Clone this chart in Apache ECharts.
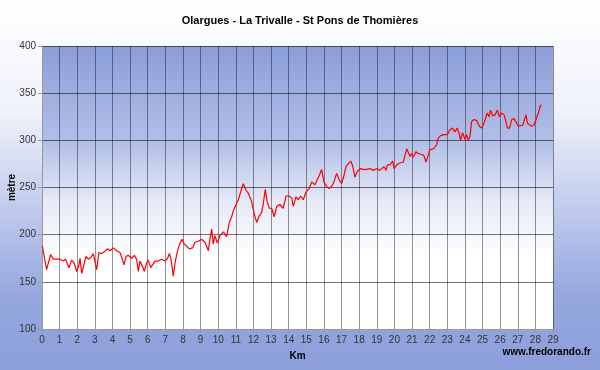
<!DOCTYPE html>
<html><head><meta charset="utf-8">
<script src="https://cdn.jsdelivr.net/npm/echarts@6/dist/echarts.min.js"></script>
<style>html,body{margin:0;padding:0;}#c{width:600px;height:370px;}</style>
</head><body><div id="c"></div>
<script>
const chartTitle = 'Olargues - La Trivalle - St Pons de Thomières';
const xAxisName = 'Km';
const yAxisName = 'mètre';
const watermark = 'www.fredorando.fr';
const distanceKm = [
 0.02,0.26,0.49,0.64,1.02,1.21,1.34,1.53,1.68,1.82,1.97,2.10,2.16,2.25,2.35,2.50,2.63,2.78,2.91,3.01,
 3.10,3.23,3.39,3.54,3.71,3.86,4.05,4.24,4.43,4.56,4.65,4.77,4.90,5.09,5.24,5.37,5.47,5.56,5.71,5.81,
 5.94,6.03,6.17,6.28,6.41,6.60,6.79,6.98,7.13,7.23,7.32,7.45,7.55,7.68,7.83,7.95,8.08,8.20,8.36,8.55,
 8.68,8.87,9.06,9.25,9.44,9.53,9.63,9.72,9.82,9.95,10.10,10.29,10.48,10.63,10.76,10.89,11.00,11.14,11.27,11.42,
 11.58,11.71,11.90,12.03,12.18,12.33,12.46,12.56,12.67,12.78,12.90,13.03,13.18,13.32,13.50,13.69,13.85,14.03,14.17,14.26,
 14.41,14.55,14.68,14.83,14.98,15.17,15.30,15.49,15.59,15.74,15.87,16.00,16.15,16.30,16.44,16.57,16.72,16.87,17.00,17.14,
 17.25,17.38,17.52,17.63,17.76,17.89,18.05,18.33,18.62,18.80,19.00,19.15,19.28,19.41,19.53,19.60,19.75,19.90,19.98,20.13,
 20.32,20.51,20.60,20.70,20.79,20.88,20.98,21.07,21.22,21.35,21.54,21.67,21.79,21.92,22.01,22.20,22.39,22.48,22.62,22.81,
 23.00,23.15,23.30,23.43,23.56,23.68,23.75,23.87,24.00,24.10,24.19,24.29,24.38,24.51,24.67,24.82,24.95,25.08,25.20,25.27,
 25.37,25.46,25.58,25.71,25.84,25.96,26.09,26.22,26.33,26.41,26.53,26.66,26.79,26.90,27.04,27.13,27.28,27.38,27.47,27.55,
 27.66,27.79,27.92,28.02,28.08,28.17,28.27,28.34
];
const altitudeM = [
 188,163,179,174,174,172,174,165,173,170,161,168,175,159,166,177,174,176,180,178,
 163,181,180,182,185,183,186,183,181,174,168,177,178,175,178,174,161,172,166,161,
 170,173,165,166,172,172,174,172,175,180,174,156,170,182,191,195,190,188,185,186,
 192,193,195,192,183,195,206,190,199,191,199,203,198,213,219,227,225,237,245,254,
 247,244,235,223,213,220,223,233,248,235,228,228,219,230,232,228,241,241,239,230,
 240,237,241,237,245,249,256,253,251,263,269,256,251,249,251,256,265,258,254,263,
 272,275,278,273,261,267,270,269,270,268,270,268,270,272,268,274,274,278,270,274,
 276,277,284,291,290,283,286,282,288,286,285,284,277,284,290,291,295,302,305,306,
 306,311,313,309,313,307,300,308,301,306,300,304,320,322,321,315,313,318,325,329,
 325,332,326,327,332,325,329,327,320,313,313,322,323,322,315,315,316,318,327,318,
 316,315,316,321,319,329,336,338
];
const yTicks = { min: 100, max: 400, step: 50 };
const xTicks = { min: 0, max: 29, step: 1 };

const chart = echarts.init(document.getElementById('c'), null, {renderer:'canvas'});
const font = 'Arial, "Liberation Sans", sans-serif';
chart.setOption({
  animation: false,
  backgroundColor: new echarts.graphic.LinearGradient(0,0,0,1,[
    {offset:0,color:'#ffffff'},{offset:0.3,color:'#f0f2fb'},{offset:0.8,color:'#95a7de'},{offset:1,color:'#8c9fdb'}
  ]),
  title: { text: chartTitle, left: 'center', top: 10,
    textStyle: { fontFamily: font, fontSize: 11, fontWeight: 'bold', color: '#000' } },
  graphic: [{ type:'text', right: 9, top: 347,
    style: { text: watermark, font: 'bold 10px Arial, "Liberation Sans", sans-serif', fill: '#000' } }],
  grid: { left: 42, right: 47, top: 46, bottom: 41, show: true, borderWidth: 0,
    containLabel: false, outerBoundsMode: 'none',
    backgroundColor: new echarts.graphic.LinearGradient(0,0,0,1,[
      {offset:0,color:'#8b9ed9'},{offset:0.35,color:'#b3c0e8'},{offset:0.55,color:'#e6eaf7'},{offset:0.75,color:'#ffffff'},{offset:1,color:'#ffffff'}
    ]) },
  xAxis: { type:'value', min:xTicks.min, max:xTicks.max, interval:xTicks.step,
    name: xAxisName, nameLocation:'middle', nameGap: 22, nameMoveOverlap: false,
    nameTextStyle: { fontFamily: font, fontSize: 10, fontWeight:'bold', color:'#000' },
    axisLine: { show:true, onZero:false, lineStyle:{ color:'#999' } },
    axisTick: { show:true, length:4, lineStyle:{ color:'#999' } },
    axisLabel: { fontFamily: font, fontSize: 10, color:'#333', margin: 6 },
    splitLine: { show:true, lineStyle:{ color:'rgba(0,0,0,0.42)', width:1 } } },
  yAxis: { type:'value', min:yTicks.min, max:yTicks.max, interval:yTicks.step,
    name: yAxisName, nameLocation:'middle', nameGap: 25, nameRotate: 90, nameMoveOverlap: false,
    nameTextStyle: { fontFamily: font, fontSize: 10, fontWeight:'bold', color:'#000' },
    axisLine: { show:true, lineStyle:{ color:'#999' } },
    axisTick: { show:true, length:4, lineStyle:{ color:'#999' } },
    axisLabel: { fontFamily: font, fontSize: 10, color:'#333', margin: 6 },
    splitLine: { show:true, lineStyle:{ color:'rgba(0,0,0,0.55)', width:1 } } },
  series: [{ type:'line', data: distanceKm.map((d,i)=>[d, altitudeM[i]]),
    showSymbol:false, symbol:'none', smooth:false,
    lineStyle:{ color:'#ff0000', width:1.2 } }]
});
</script></body></html>
